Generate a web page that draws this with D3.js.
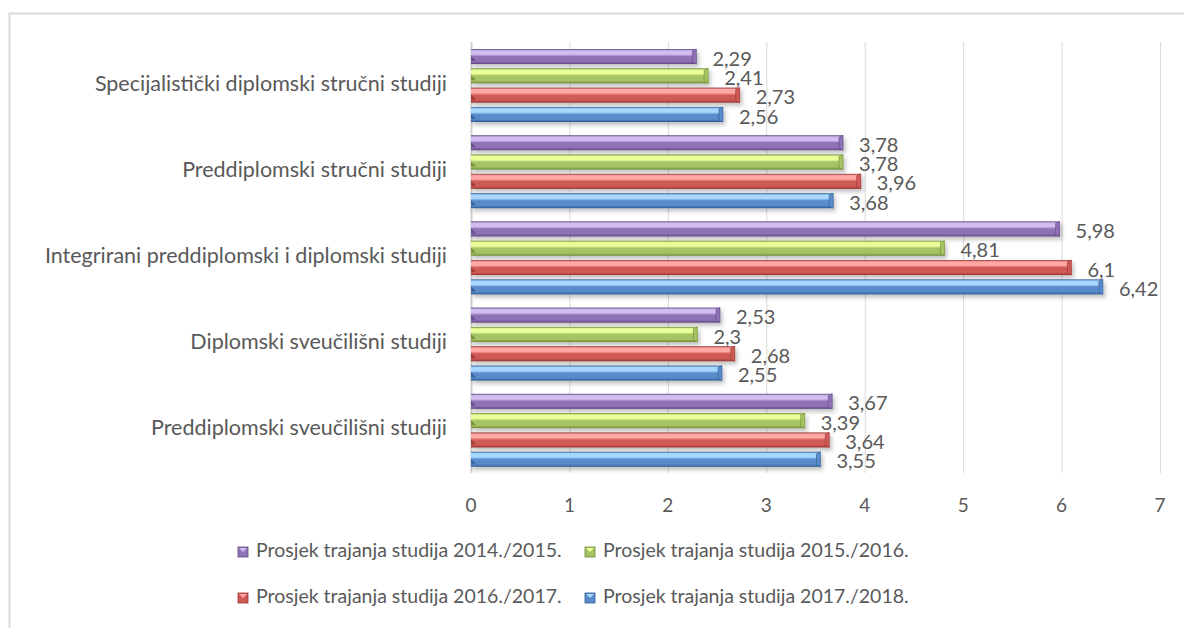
<!DOCTYPE html>
<html>
<head>
<meta charset="utf-8">
<script src="https://cdn.jsdelivr.net/npm/d3@7"></script>
<style>
  body { margin: 0; background: #fff; }
  text { font-family: Lato, "Open Sans", sans-serif; fill: #595959; }
</style>
</head>
<body>
<svg id="chart" width="1184" height="628"></svg>
<script>
// data
let categories = ["Specijalistički diplomski stručni studiji",
  "Preddiplomski stručni studiji",
  "Integrirani preddiplomski i diplomski studiji",
  "Diplomski sveučilišni studiji",
  "Preddiplomski sveučilišni studiji"];
let seriesNames = ["Prosjek trajanja studija 2014./2015.", "Prosjek trajanja studija 2015./2016.",
  "Prosjek trajanja studija 2016./2017.", "Prosjek trajanja studija 2017./2018."];
let v2014 = [2.29, 3.78, 5.98, 2.53, 3.67];
let v2015 = [2.41, 3.78, 4.81, 2.30, 3.39];
let v2016 = [2.73, 3.96, 6.10, 2.68, 3.64];
let v2017 = [2.56, 3.68, 6.42, 2.55, 3.55];
let xTicks = [0, 1, 2, 3, 4, 5, 6, 7];

let seriesValues = [v2014, v2015, v2016, v2017];
let colors = [
  {light: "#d2bdf0", mid: "#8f72b5", dark: "#5f4682"},
  {light: "#eaff9a", mid: "#a6c463", dark: "#6f8a36"},
  {light: "#ffa8a5", mid: "#d05a56", dark: "#963532"},
  {light: "#a8d8ff", mid: "#5a8ccb", dark: "#2f5c93"}
];

let svg = d3.select("#chart");
let defs = svg.append("defs");

colors.forEach(function (c, i) {
  let g = defs.append("linearGradient").attr("id", "grad" + i)
    .attr("x1", 0).attr("y1", 0).attr("x2", 0).attr("y2", 1);
  g.append("stop").attr("offset", "0").attr("stop-color", c.dark);
  g.append("stop").attr("offset", "0.12").attr("stop-color", c.light);
  g.append("stop").attr("offset", "0.35").attr("stop-color", c.light);
  g.append("stop").attr("offset", "0.5").attr("stop-color", c.mid);
  g.append("stop").attr("offset", "0.82").attr("stop-color", c.mid);
  g.append("stop").attr("offset", "1").attr("stop-color", c.dark);
});

let shadow = defs.append("filter").attr("id", "shadow")
  .attr("x", "-5%").attr("y", "-50%").attr("width", "115%").attr("height", "250%");
shadow.append("feDropShadow").attr("dx", 2).attr("dy", 3).attr("stdDeviation", 2)
  .attr("flood-color", "#000").attr("flood-opacity", 0.25);

// outer frame
svg.append("rect").attr("x", 9.5).attr("y", 13.5).attr("width", 1200).attr("height", 700)
  .attr("fill", "none").attr("stroke", "#d9d9d9").attr("stroke-width", 2);

let x = d3.scaleLinear().domain([0, 7]).range([471, 1160]);
let y = d3.scaleBand().domain(categories).range([42, 473]);
let inner = d3.scaleBand().domain([0, 1, 2, 3]).range([7, 80]).paddingInner(0.22);

// gridlines
svg.append("g").selectAll("line").data(xTicks).join("line")
  .attr("x1", d => x(d) + 0.5).attr("x2", d => x(d) + 0.5)
  .attr("y1", 42).attr("y2", 473)
  .attr("stroke", d => d === 0 ? "#cfcfcf" : "#d9d9d9")
  .attr("stroke-width", d => d === 0 ? 2 : 1);

// x tick labels
svg.append("g").selectAll("text").data(xTicks).join("text")
  .attr("x", d => x(d)).attr("y", 507)
  .attr("text-anchor", "middle").attr("dominant-baseline", "middle")
  .style("font-size", "19px")
  .text(d => d);

// category labels
svg.append("g").selectAll("text").data(categories).join("text")
  .attr("x", 447).attr("y", d => y(d) + y.bandwidth() / 2)
  .attr("text-anchor", "end").attr("dominant-baseline", "middle")
  .style("font-size", "21.5px")
  .text(d => d);

// bars
let rows = [];
categories.forEach(function (c, ci) {
  seriesValues.forEach(function (vals, si) {
    rows.push({cat: c, s: si, v: vals[ci]});
  });
});

let barG = svg.append("g");
let bars = barG.selectAll("g.bar").data(rows).join("g").attr("class", "bar")
  .attr("filter", "url(#shadow)");

bars.append("rect")
  .attr("x", x(0))
  .attr("y", d => y(d.cat) + inner(d.s))
  .attr("width", d => x(d.v) - x(0))
  .attr("height", inner.bandwidth())
  .attr("fill", d => "url(#grad" + d.s + ")");

// bevel at left end
bars.append("path")
  .attr("d", function (d) {
    let y0 = y(d.cat) + inner(d.s), h = inner.bandwidth();
    let x0 = x(0);
    return "M" + x0 + "," + (y0 + h * 0.45) + "L" + (x0 + 5) + "," + (y0 + h * 0.8) + "L" + x0 + "," + (y0 + h * 0.8) + "Z";
  })
  .attr("fill", d => colors[d.s].dark).attr("opacity", 0.8);

// bevel at right end
bars.append("path")
  .attr("d", function (d) {
    let y0 = y(d.cat) + inner(d.s), h = inner.bandwidth();
    let x1 = x(d.v);
    return "M" + (x1 - 4) + "," + (y0 + 2) + "L" + x1 + "," + y0 + "L" + x1 + "," + (y0 + h) + "L" + (x1 - 4) + "," + (y0 + h - 2) + "Z";
  })
  .attr("fill", d => colors[d.s].mid).attr("stroke", d => colors[d.s].dark).attr("stroke-width", 0.6);

// value labels
svg.append("g").selectAll("text").data(rows).join("text")
  .attr("x", d => x(d.v) + 16)
  .attr("y", d => y(d.cat) + inner(d.s) + inner.bandwidth() / 2 + 4)
  .attr("dominant-baseline", "middle")
  .style("font-size", "20px")
  .text(d => String(d.v).replace(".", ","));

// legend
let legendPos = [[238, 552], [585, 552], [238, 598], [585, 598]];
let leg = svg.append("g").selectAll("g").data(seriesNames).join("g")
  .attr("transform", (d, i) => "translate(" + legendPos[i][0] + "," + legendPos[i][1] + ")");
leg.append("rect").attr("x", 0).attr("y", -5).attr("width", 10).attr("height", 10)
  .attr("fill", (d, i) => colors[i].mid).attr("stroke", (d, i) => colors[i].dark).attr("stroke-width", 0.8);
leg.append("path").attr("d", "M1,-4L5,0L9,-4Z").attr("fill", (d, i) => colors[i].light);
leg.append("text").attr("x", 18).attr("y", 0).attr("dominant-baseline", "middle")
  .style("font-size", "19.5px")
  .text(d => d);
</script>
</body>
</html>
